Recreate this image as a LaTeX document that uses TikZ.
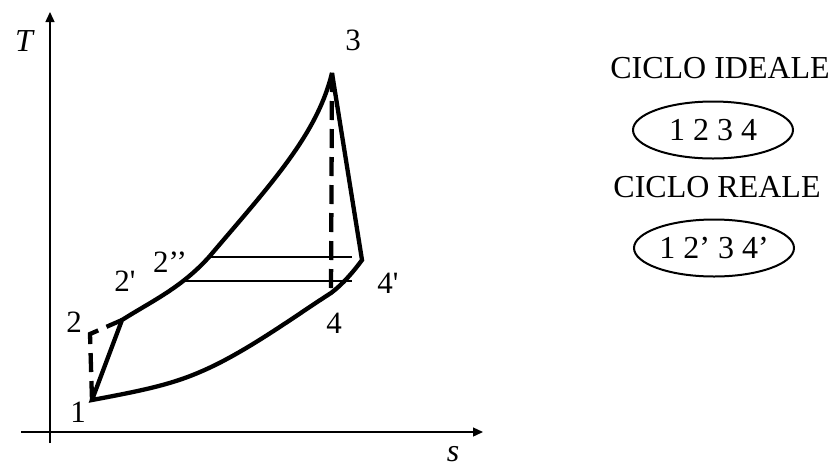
\documentclass[tikz,border=0pt]{standalone}
\usepackage{fontspec}
\setmainfont{Liberation Serif}
\usetikzlibrary{arrows.meta,shapes.geometric}

\begin{document}
\begin{tikzpicture}[x=1pt,y=-1pt,
  % Node Styles
  lbl/.style={inner sep=0pt, font=\fontsize{31}{37}\selectfont},
  axlbl/.style={inner sep=0pt, font=\fontsize{32}{38}\selectfont\itshape},
  heading/.style={inner sep=0pt, font=\fontsize{32}{38}\selectfont},
  cyclebox/.style={ellipse, draw, line width=2pt, minimum width=160pt, minimum height=57pt, inner sep=0pt, font=\fontsize{32}{38}\selectfont},
  % Line Styles
  axisline/.style={line width=1.3pt, -{Triangle[length=10pt,width=9pt]}},
  realline/.style={line width=4.3pt, line join=miter, miter limit=3},
  idealline/.style={line width=4.3pt, dash pattern=on 19pt off 9pt},
  isoline/.style={line width=1.3pt},
]
\useasboundingbox (0,0) rectangle (835,472);

% T-s Diagram: Joule-Brayton cycle

\coordinate (Tbot) at (50,443);
\coordinate (Ttop) at (50,12);
\coordinate (sleft) at (21,432);
\coordinate (sright) at (483,432);

\coordinate (p1) at (92,400);
\coordinate (p2) at (90,334);
\coordinate (p2a) at (122,320);
\coordinate (p2b) at (209,257);
\coordinate (q1) at (183,281);
\coordinate (p3) at (332,73);
\coordinate (p4a) at (362,260);
\coordinate (p4) at (331,293);
\coordinate (r1) at (200,372);
\coordinate (e1) at (352,257);
\coordinate (e2) at (352,281);

\draw[axisline] (Tbot) -- (Ttop);
\draw[axisline] (sleft) -- (sright);

\draw[realline] (p1) -- (p2a) .. controls (152,301) and (181,288) .. (p2b)
  .. controls (270,185) and (317,135) .. (p3) -- (p4a)
  .. controls (354,271) and (343,284) .. (p4)
  .. controls (295,316) and (245,353) .. (r1)
  .. controls (170,385) and (140,391) .. cycle;
\draw[idealline] (p1) -- (p2) -- (p2a);
\draw[idealline] (p3) -- (p4);
\draw[isoline] (p2b) -- (e1);
\draw[isoline] (q1) -- (e2);

\node[axlbl] (Tlbl) at (24,41) {T};
\node[axlbl] (slbl) at (453,454) {s};
\node[lbl] (l1) at (78,412) {1};
\node[lbl] (l2) at (74,322) {2};
\node[lbl] (l2a) at (125,281) {2\textquotesingle};
\node[lbl] (l2b) at (170,262) {2’’};
\node[lbl] (l3) at (353,40) {3};
\node[lbl] (l4) at (334,323) {4};
\node[lbl] (l4a) at (388,283) {4\textquotesingle};

\node[heading] (ideale) at (720,68) {CICLO IDEALE};
\node[cyclebox] (idealset) at (713,130) {1 2 3 4};
\node[heading] (reale) at (717,187) {CICLO REALE};
\node[cyclebox] (realset) at (714,248) {1 2’ 3 4’};

\end{tikzpicture}
\end{document}
